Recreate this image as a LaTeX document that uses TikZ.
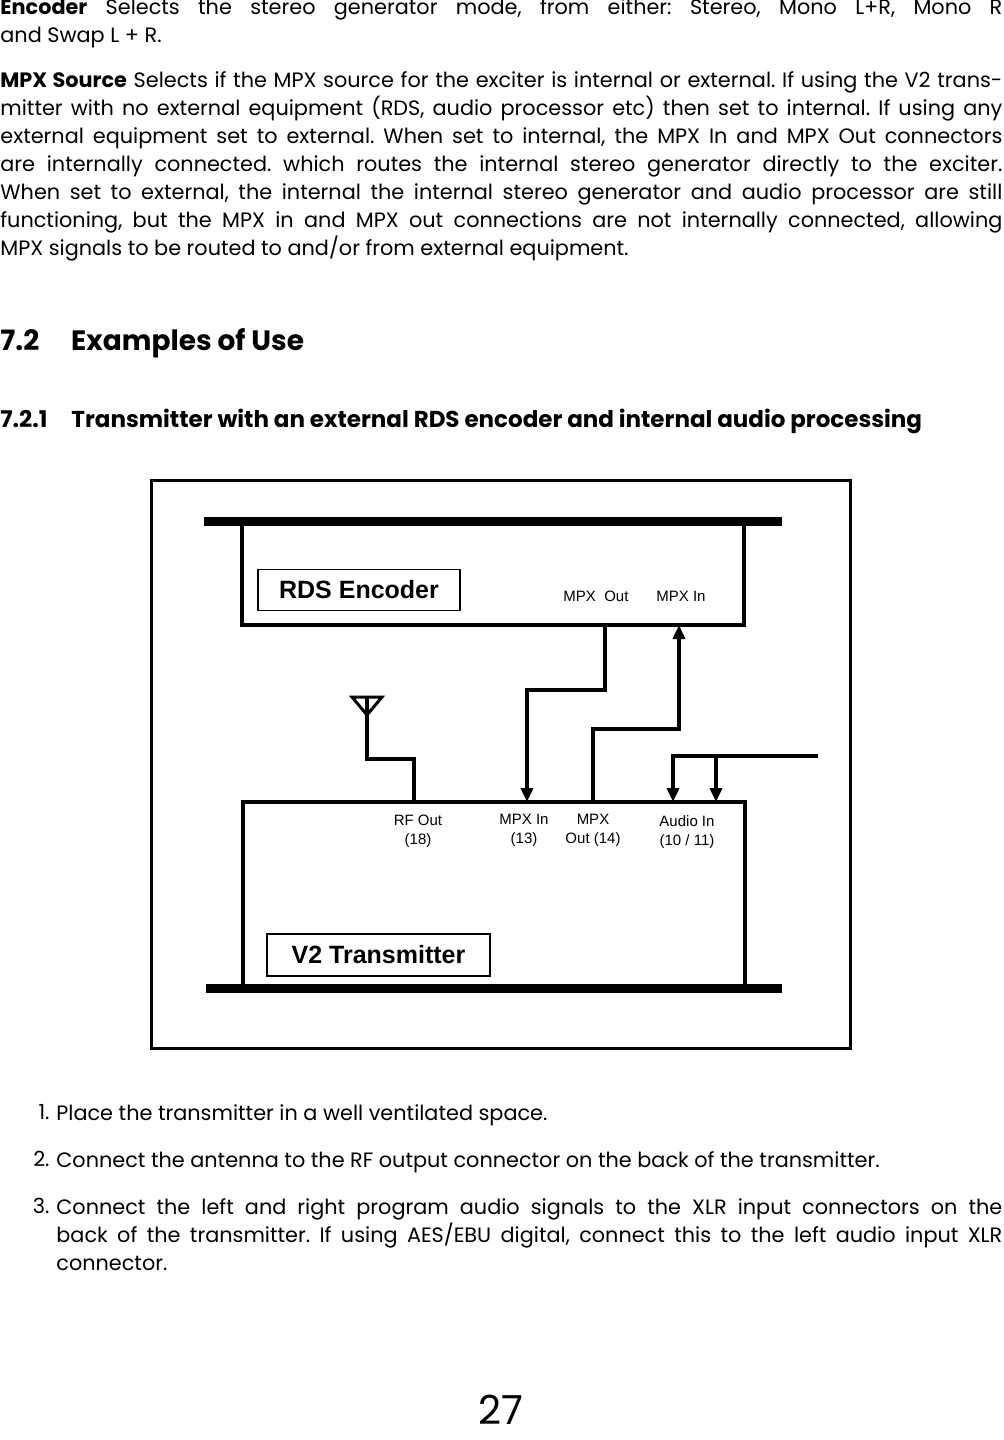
\documentclass[tikz,border=0pt]{standalone}
\usepackage{fontspec}
\setmainfont{Poppins}
\newfontfamily\arialfont{Liberation Sans}
\usetikzlibrary{arrows.meta}
\frenchspacing
\tikzset{
  para/.style={anchor=north west,inner sep=0pt,text width=501pt,align=justify,font=\fontsize{10.4pt}{14pt}\selectfont},
  num/.style={anchor=north east,inner sep=0pt,font=\fontsize{10.4pt}{14pt}\selectfont},
  wire/.style={line width=2pt},
  feed/.style={wire,-{Triangle[length=7pt,width=6pt]}},
  port/.style={font=\arialfont\fontsize{7.5pt}{9.5pt}\selectfont,align=center,inner sep=0pt},
  title/.style={draw,line width=0.8pt,font=\arialfont\bfseries\fontsize{12.5pt}{14pt}\selectfont,inner sep=0pt}
}
\begin{document}
\begin{tikzpicture}[x=0.5pt,y=-0.5pt]
  \useasboundingbox (0,0) rectangle (1003,1440);
  % text above
  \node[para] (p1) at (0,-2) {\textbf{Encoder} Selects the stereo generator mode, from either: Stereo, Mono L+R, Mono R\linebreak and Swap L + R.};
  \node[para] (p2) at (0,71) {\textbf{MPX Source} Selects if the MPX source for the exciter is internal or external. If using the V2 trans-\linebreak mitter with no external equipment (RDS, audio processor etc) then set to internal. If using any\linebreak external equipment set to external. When set to internal, the MPX In and MPX Out connectors\linebreak are internally connected. which routes the internal stereo generator directly to the exciter.\linebreak When set to external, the internal the internal stereo generator and audio processor are still\linebreak functioning, but the MPX in and MPX out connections are not internally connected, allowing\linebreak MPX signals to be routed to and/or from external equipment.};
  \node[anchor=west,inner sep=0pt,font=\bfseries\fontsize{14pt}{16pt}\selectfont] (h1) at (0,343) {7.2\hspace{16pt}Examples of Use};
  \node[anchor=west,inner sep=0pt,font=\bfseries\fontsize{11.5pt}{13pt}\selectfont] (h2) at (0,421) {7.2.1\hspace{12pt}Transmitter with an external RDS encoder and internal audio processing};
  % diagram
  \draw[line width=1.5pt] (151,480) rectangle (850,1048);
  \draw[line width=4.5pt] (204,521) -- (782,521);
  \draw[line width=4.5pt] (206,988) -- (782,988);
  \draw[wire] (242,521) -- (242,625) -- (744,625) -- (744,521);
  \draw[wire] (243,988) -- (243,802) -- (745,802) -- (745,988);
  \node[title,minimum width=101pt,minimum height=20.5pt] (rds) at (359,590) {RDS Encoder};
  \node[title,minimum width=111.5pt,minimum height=21pt] (v2) at (378.5,955) {V2 Transmitter};
  \node[port] (rdsout) at (596,596) {MPX\ \ Out};
  \node[port] (rdsin) at (681,596) {MPX In};
  \node[port] (rfout) at (418,831) {RF Out\\(18)};
  \node[port] (txin) at (524,830) {MPX In\\(13)};
  \node[port] (txout) at (593,830) {MPX\\Out (14)};
  \node[port] (audio) at (687,832) {Audio In\\(10 / 11)};
  \coordinate (encout) at (605,625);
  \coordinate (encin) at (679,625);
  \coordinate (mpxin) at (527,802);
  \coordinate (mpxout) at (593,802);
  \coordinate (rf) at (414,802);
  \coordinate (ant) at (367,697);
  \coordinate (audsrc) at (818,756);
  \coordinate (audl) at (673,802);
  \coordinate (audr) at (716,802);
  \draw[feed] (encout) |- (527,690) -- (mpxin);
  \draw[feed] (mpxout) |- (679,729) -- (encin);
  \draw[wire] (rf) |- (367,759) -- (ant);
  \draw[line width=1.5pt] (352,697) -- (382,697) -- (367,715) -- cycle;
  \draw[feed] (audsrc) -| (audl);
  \draw[feed] (716,756) -- (audr);
  % list
  \node[para,text width=473pt] (l1) at (56,1104) {Place the transmitter in a well ventilated space.};
  \node[num] at (50,1104) {1.};
  \node[para,text width=473pt] (l2) at (56,1151) {Connect the antenna to the RF output connector on the back of the transmitter.};
  \node[num] at (50,1151) {2.};
  \node[para,text width=473pt] (l3) at (56,1198) {Connect the left and right program audio signals to the XLR input connectors on the\linebreak back of the transmitter. If using AES/EBU digital, connect this to the left audio input XLR\linebreak connector.};
  \node[num] at (50,1198) {3.};
  \node[inner sep=0pt,font=\fontsize{20pt}{20pt}\selectfont] (pg) at (501,1410) {27};
\end{tikzpicture}
\end{document}
